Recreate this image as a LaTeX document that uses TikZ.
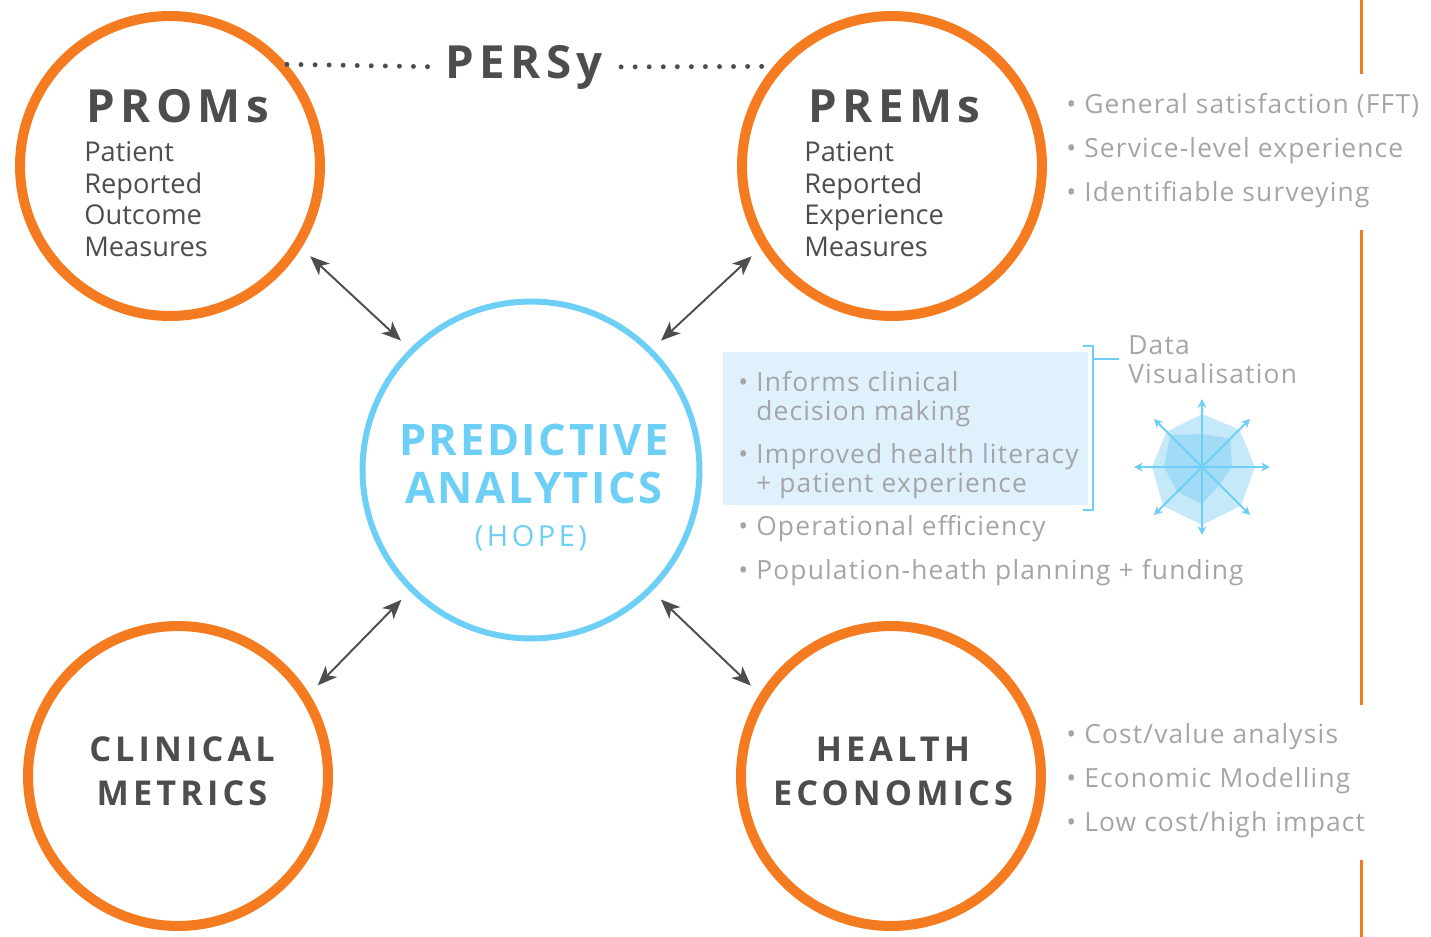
\documentclass[tikz,border=0pt]{standalone}
\usepackage{fontspec}
\setmainfont{Open Sans}
\newfontfamily\spaced[LetterSpace=12.0]{Open Sans}
\newfontfamily\halfspaced[LetterSpace=6.0]{Open Sans}
\newfontfamily\listfont[LetterSpace=4.5]{Open Sans}
\usetikzlibrary{arrows.meta}

\definecolor{promorange}{HTML}{F47B20}
\definecolor{hopeblue}{HTML}{6DCFF6}
\definecolor{darktext}{HTML}{4D4D4F}
\definecolor{greytext}{HTML}{A3A5A8}
\definecolor{boxblue}{HTML}{DEF1FC}
\definecolor{radarlight}{HTML}{C6E9FA}
\definecolor{radardark}{HTML}{A2DBF6}

\tikzset{
    ring/.style = {circle, draw=promorange, line width=5.7pt, minimum size=6cm},
    headline/.style = {font=\spaced\bfseries\fontsize{26}{28}\selectfont, text=darktext, inner sep=0},
    subtext/.style = {font=\fontsize{15.5}{17.9}\selectfont, text=darktext, align=left, inner sep=0},
    boxtitle/.style = {font=\spaced\bfseries\fontsize{19.5}{24.5}\selectfont, text=darktext, align=center, inner sep=0},
    listtext/.style = {font=\listfont\fontsize{15}{25}\selectfont, text=greytext, align=left, inner sep=0},
    dblarrow/.style = {{Stealth[length=11pt,width=9pt,inset=3pt]}-{Stealth[length=11pt,width=9pt,inset=3pt]},
        draw=darktext, line width=1.1pt, shorten <=0.24cm, shorten >=0.24cm},
    dotline/.style = {draw=darktext, line width=2.8pt, line cap=round, dash pattern=on 0pt off 8pt}
}

\begin{document}
\begin{tikzpicture}[x=0.02cm, y=-0.02cm]
    \useasboundingbox (0,0) rectangle (1431,937);

    % the four rings and the centre
    \node[ring] (prom) at (170,166) {};
    \node[ring] (prem) at (892,166) {};
    \node[ring] (clin) at (178,776) {};
    \node[ring] (heco) at (891,776) {};
    \node[circle, draw=hopeblue, line width=3.4pt, minimum size=6.74cm] (hope) at (531,470) {};

    \node[headline, anchor=base west] (promT) at (86,122) {PROMs};
    \node[subtext, anchor=base west] (promS) at (84,256) {Patient\\Reported\\Outcome\\Measures};
    \node[headline, anchor=base west] (premT) at (808,122) {PREMs};
    \node[subtext, anchor=base west] (premS) at (804,256) {Patient\\Reported\\Experience\\Measures};
    \node[boxtitle, anchor=base] (clinT) at (182,805) {CLINICAL\\METRICS};
    \node[boxtitle, anchor=base] (hecoT) at (893,805) {HEALTH\\ECONOMICS};

    \node[headline, font=\halfspaced\bfseries\fontsize{24.7}{27.3}\selectfont, text=hopeblue, align=center, anchor=base]
        (hopeT) at (534,503) {PREDICTIVE\\ANALYTICS};
    \node[font=\spaced\fontsize{16.5}{20}\selectfont, text=hopeblue, inner sep=0, anchor=base] (hopeS) at (531,546) {(HOPE)};

    % PERSy link
    \node[headline, anchor=base] (persy) at (524,78) {PERSy};
    \draw[dotline, shorten >=0.16cm] (prom.41) -- (persy.west);
    \draw[dotline, shorten <=0.36cm] (persy.east) -- (prem.140);

    % arrows to the centre
    \draw[dblarrow] (prom.-32) -- (hope.135);
    \draw[dblarrow] (prem.212) -- (hope.45);
    \draw[dblarrow] (clin.32) -- (hope.225);
    \draw[dblarrow] (heco.148) -- (hope.-45);

    % lists
    \node[listtext, anchor=base west] (premL) at (1066,201)
        {\textbullet\ General satisfaction (FFT)\\\textbullet\ Service-level experience\\\textbullet\ Identifiable surveying};
    \node[listtext, anchor=base west] (hecoL) at (1066,831)
        {\textbullet\ Cost/value analysis\\\textbullet\ Economic Modelling\\\textbullet\ Low cost/high impact};

    \fill[boxblue] (723,352) rectangle (1088,505);
    \node[listtext, font=\listfont\fontsize{15}{16.5}\selectfont, anchor=base west] (hopeL) at (738,579)
        {\textbullet\ Informs clinical\\\phantom{\textbullet\ }decision making\\[8pt]\textbullet\ Improved health literacy\\\phantom{\textbullet\ }+ patient experience\\[8pt]\textbullet\ Operational efficiency\\[8pt]\textbullet\ Population-heath planning + funding};

    \draw[hopeblue, line width=1.1pt] (1083,346) -- (1093,346) -- (1093,510) -- (1083,510);
    \draw[hopeblue, line width=1.1pt] (1093,359) -- (1119,359);
    \node[listtext, font=\listfont\fontsize{15}{16.5}\selectfont, anchor=base west] (dataviz) at (1128,383) {Data\\Visualisation};

    % radar chart
    \begin{scope}[shift={(1202,467)}]
        \fill[radarlight] (0:53) -- (45:55) -- (90:58) -- (135:55) -- (180:50) -- (225:50) -- (270:53) -- (315:53) -- cycle;
        \fill[radardark] (0:30) -- (45:25) -- (90:37) -- (135:35) -- (180:38) -- (225:45) -- (270:33) -- (315:40) -- cycle;
        \foreach \a in {0,45,...,315}
            \draw[hopeblue, line width=1.1pt, -{Stealth[length=5pt,width=5pt]}] (0,0) -- (\a:68);
    \end{scope}

    % side rule
    \draw[promorange, line width=1.7pt] (1361,0) -- (1361,74) (1361,230) -- (1361,705) (1361,860) -- (1361,937);
\end{tikzpicture}
\end{document}
